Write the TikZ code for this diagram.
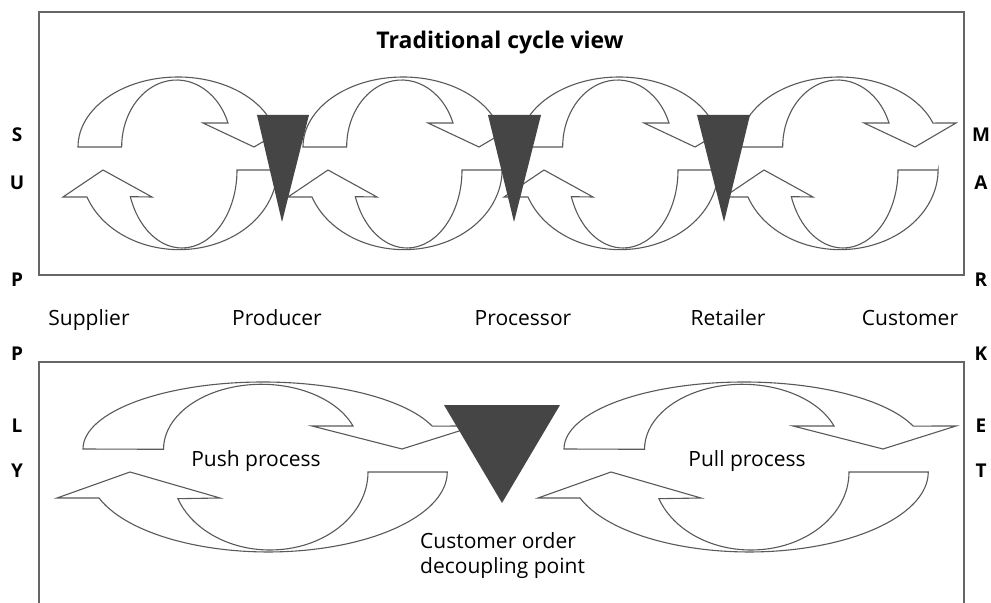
\documentclass[tikz,border=0pt]{standalone}
\usepackage{fontspec}
\setmainfont{Open Sans}
\usetikzlibrary{positioning}

\begin{document}
\begin{tikzpicture}[x=1bp,y=1bp,yscale=-1,
 flow/.style={draw=black!65,fill=white,line width=1.1bp},
 wedge/.style={fill=black!73,draw=none},
 frame/.style={draw=black!60,line width=1.2bp},
 lbl/.style={font=\fontsize{21bp}{25bp}\selectfont,inner sep=0pt},
 side/.style={font=\fontsize{19bp}{22bp}\selectfont\bfseries,inner sep=0pt,anchor=base}]

  \useasboundingbox (0,0) rectangle (991,603);

  % boxes
  \draw[frame] (39,12) rectangle (964,275);
  \draw[frame] (39,603) -- (39,362) -- (964,362) -- (964,603);

  % traditional cycles
  \foreach \dx in {0,225,441,661} {
   \begin{scope}[shift={(\dx,0)}]
    \path[flow] (78,147) arc[start angle=180,end angle=340,x radius=100,y radius=70]
      -- (295,123) -- (254,147) -- (203,123) -- (228,123)
      arc[start angle=339,end angle=180,x radius=55,y radius=67] -- cycle;
    \path[flow] (277,170) -- (237,170)
      arc[start angle=0,end angle=160,x radius=55,y radius=78]
      -- (152,197) -- (103,170) -- (63,197) -- (87,197)
      arc[start angle=160,end angle=0,x radius=98,y radius=80] -- cycle;
   \end{scope}}

  \foreach \l/\r/\t in {257/309/282, 488/541/514, 697/750/724}
    \fill[wedge] (\l,115) -- (\r,115) -- (\t,222) -- cycle;

  % push and pull
  \foreach \dx in {0,481} {
   \begin{scope}[shift={(\dx,0)}]
    \path[flow] (83,449) arc[start angle=180,end angle=340,x radius=180,y radius=67]
      -- (475,426) -- (402,449) -- (312,426) -- (353,426)
      arc[start angle=339,end angle=180,x radius=98,y radius=65] -- cycle;
    \path[flow] (447,472) -- (368,472)
      arc[start angle=0,end angle=160,x radius=98,y radius=78]
      -- (220,498) -- (130,472) -- (57,498) -- (99,498)
      arc[start angle=161,end angle=0,x radius=179,y radius=80] -- cycle;
   \end{scope}}

  \fill[wedge] (444,405) -- (560,405) -- (502,503) -- cycle;

  % texts
  \node[inner sep=0pt,anchor=base,font=\fontsize{23bp}{27bp}\selectfont\bfseries] (ttl) at (500,49) {Traditional cycle view};

  \foreach \n/\t/\x in {sup/Supplier/89, prod/Producer/277, proc/Processor/523, ret/Retailer/728, cust/Customer/910}
    \node[lbl,anchor=base] (\n) at (\x,325) {\t};

  \node[lbl,anchor=base] (push) at (256,466) {Push process};
  \node[lbl,anchor=base] (pull) at (747,466) {Pull process};
  \node[lbl,anchor=north west,align=left] (codp) at (420,532) {Customer order\\decoupling point};

  \foreach \a/\b/\y [count=\i] in {S/M/142, U/A/190, P/R/287, P/K/360, L/E/432, Y/T/477} {
    \node[side] (sl\i) at (17,\y) {\a};
    \node[side] (sr\i) at (981,\y) {\b};
  }

\end{tikzpicture}
\end{document}
